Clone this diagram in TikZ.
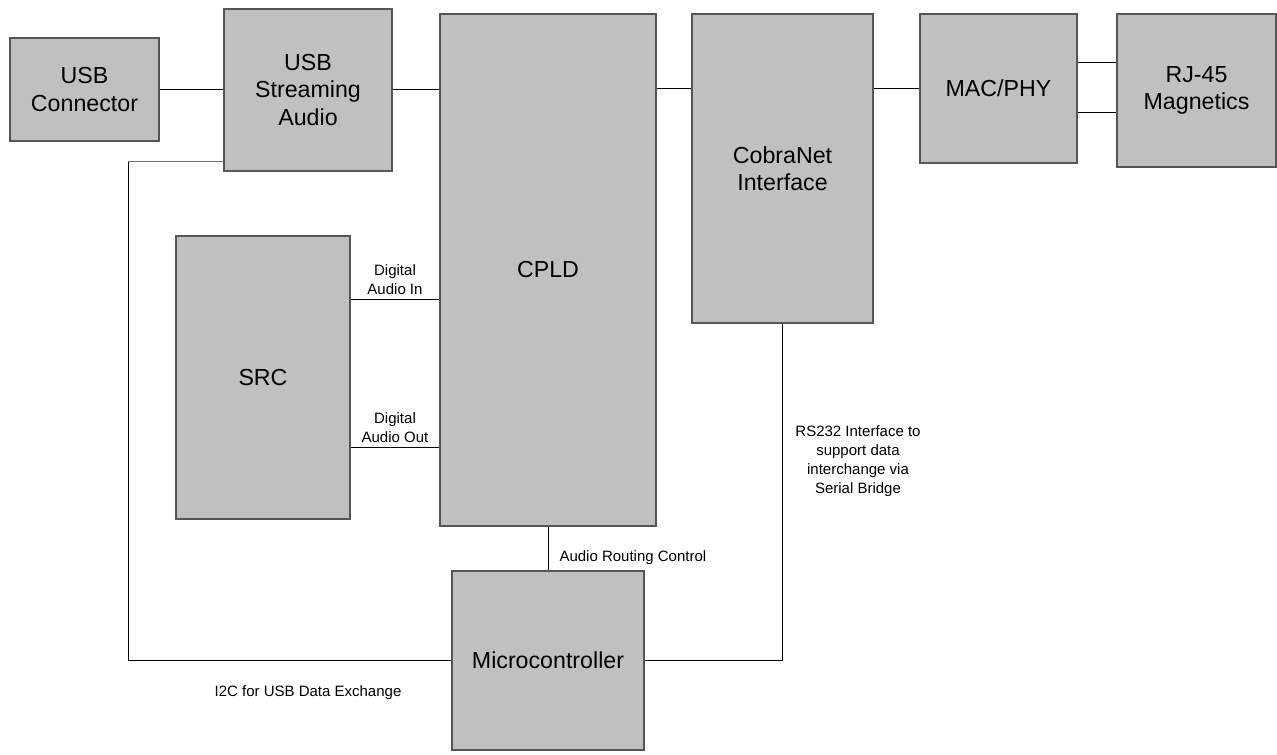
\documentclass[tikz,border=0pt]{standalone}
\usepackage{fontspec}
\setmainfont{Liberation Sans}

\definecolor{boxgray}{RGB}{192,192,192}
\definecolor{edgegray}{RGB}{85,85,85}
\definecolor{linkblue}{RGB}{68,114,196}

\tikzset{
    blk/.style={draw=edgegray, fill=boxgray, line width=0.7pt, inner sep=0pt, align=center, font=\fontsize{11.6}{13.75}\selectfont},
    lbl/.style={font=\fontsize{7.5}{9.5}\selectfont, align=center, inner sep=1pt},
    wire/.style={line width=0.5pt},
}

\begin{document}
\begin{tikzpicture}[x=0.5pt, y=-0.5pt]
    \useasboundingbox (0,0) rectangle (1277,754);
    \node[blk, minimum width=74.5pt, minimum height=51.5pt] (usbconn) at (84.5,89.5) {USB\\Connector};
    \node[blk, minimum width=84pt, minimum height=81pt] (usbaudio) at (308,90) {USB\\Streaming\\Audio};
    \node[blk, minimum width=108pt, minimum height=256pt] (cpld) at (548,270) {CPLD};
    \node[blk, minimum width=90.5pt, minimum height=154.5pt] (cobranet) at (782.5,168.5) {CobraNet\\Interface};
    \node[blk, minimum width=78.5pt, minimum height=74.5pt] (macphy) at (998.5,88.5) {MAC/PHY};
    \node[blk, minimum width=79.5pt, minimum height=76.5pt] (rj45) at (1196.5,90.5) {RJ-45\\Magnetics};
    \node[blk, minimum width=87pt, minimum height=141.5pt] (src) at (263,377.5) {SRC};
    \node[blk, minimum width=96pt, minimum height=89.5pt] (micro) at (548,660.5) {Microcontroller};
    \coordinate (bend) at (128,162);

    \draw[wire] (usbconn.east) -- (usbconn.east -| usbaudio.west);
    \draw[wire] (usbaudio.east) -- (usbaudio.east -| cpld.west);
    \draw[wire] (cpld.east |- macphy) -- (cobranet.west |- macphy);
    \draw[wire] (cobranet.east |- macphy) -- (macphy.west);
    \draw[wire] ([yshift=12.75pt]macphy.east) -- ([yshift=12.75pt]macphy.east -| rj45.west);
    \draw[wire] ([yshift=-12.25pt]macphy.east) -- ([yshift=-12.25pt]macphy.east -| rj45.west);
    \draw[wire] ([yshift=39.25pt]src.east) -- ([yshift=39.25pt]src.east -| cpld.west) node[lbl, midway, above=1pt] {Digital\\Audio In};
    \draw[wire] ([yshift=-34.75pt]src.east) -- ([yshift=-34.75pt]src.east -| cpld.west) node[lbl, midway, above=1pt] {Digital\\Audio Out};
    \draw[wire] (cpld.south) -- (micro.north) node[lbl, pos=0.7, right=4.5pt] {Audio Routing Control};
    \draw[wire] (micro.east) -| (cobranet.south);
    \draw[wire] (micro.west) -| (bend);
    \draw[wire, linkblue] (bend) -- (bend -| usbaudio.west);

    \node[lbl] (rs232) at (858,461) {RS232 Interface to\\support data\\interchange via\\Serial Bridge};
    \node[lbl] (i2c) at (308,693) {I2C for USB Data Exchange};
\end{tikzpicture}
\end{document}
